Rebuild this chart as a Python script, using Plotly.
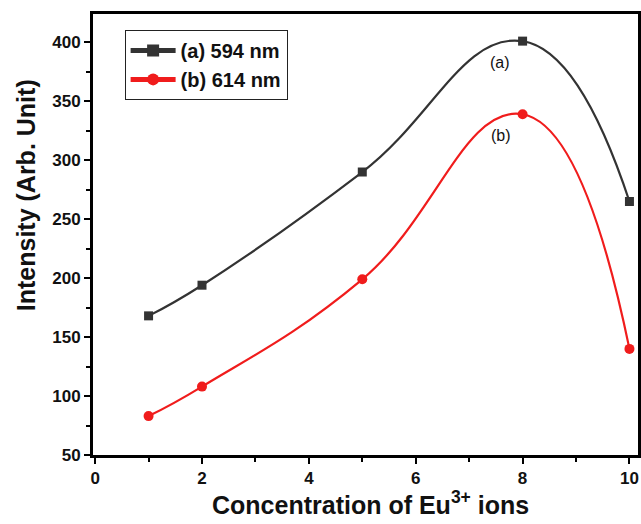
import plotly.graph_objects as go

# Eu3+ concentration (mol %) and emission intensities
concentration = [1, 2, 5, 8, 10]
intensity_594 = [168, 194, 290, 401, 265]
intensity_614 = [83, 108, 199, 339, 140]

series_names = ["(a) 594 nm", "(b) 614 nm"]
curve_labels = ["(a)", "(b)"]
label_pos_x = [7.57, 7.6]
label_pos_y = [383, 321]

x_ticks = [0, 2, 4, 6, 8, 10]
y_ticks = [50, 100, 150, 200, 250, 300, 350, 400]

x_title = "Concentration of Eu<sup>3+</sup> ions"
y_title = "Intensity (Arb. Unit)"

FONT = "Liberation Sans, Arial, sans-serif"

fig = go.Figure()
fig.add_trace(go.Scatter(
    x=concentration, y=intensity_594, name=series_names[0],
    mode="lines+markers",
    line=dict(color="#333333", width=2.2, shape="spline", smoothing=1.3),
    marker=dict(symbol="square", size=9, color="#333333"),
))
fig.add_trace(go.Scatter(
    x=concentration, y=intensity_614, name=series_names[1],
    mode="lines+markers",
    line=dict(color="#f01c1c", width=2.2, shape="spline", smoothing=1.3),
    marker=dict(symbol="circle", size=10, color="#f01c1c"),
))

for txt, lx, ly in zip(curve_labels, label_pos_x, label_pos_y):
    fig.add_annotation(x=lx, y=ly, text=txt, showarrow=False,
                       font=dict(family=FONT, size=16, color="#111111"))

# axis titles placed as paper-anchored annotations
title_font = dict(family=FONT, size=25, color="#111111", weight="bold")
fig.add_annotation(xref="paper", yref="paper", x=0.509, y=-0.109,
                   xanchor="center", yanchor="middle", text=x_title,
                   showarrow=False, font=title_font)
fig.add_annotation(xref="paper", yref="paper", x=-0.124, y=0.59,
                   xanchor="center", yanchor="middle", text=y_title,
                   textangle=-90, showarrow=False, font=title_font)

axis_common = dict(
    showline=True, linecolor="black", linewidth=3, mirror=True,
    ticks="outside", ticklen=6, tickwidth=2, tickcolor="black",
    showgrid=False, zeroline=False,
    tickfont=dict(family=FONT, size=17, color="#111111", weight="bold"),
)

fig.update_xaxes(
    range=[-0.04, 10.16], tickvals=x_ticks,
    minor=dict(ticks="outside", ticklen=4, tickwidth=2, tickcolor="black", dtick=1, tick0=0),
    **axis_common,
)
fig.update_yaxes(
    range=[50, 424], tickvals=y_ticks,
    minor=dict(ticks="outside", ticklen=4, tickwidth=2, tickcolor="black", dtick=25, tick0=50),
    **axis_common,
)

fig.update_layout(
    width=641, height=524,
    margin=dict(l=93, r=0, t=14, b=69),
    paper_bgcolor="white", plot_bgcolor="white",
    showlegend=True,
    legend=dict(
        x=0.058, y=0.964, xanchor="left", yanchor="top",
        bordercolor="#222222", borderwidth=1, bgcolor="white",
        font=dict(family=FONT, size=20, color="#111111", weight="bold"),
        tracegroupgap=0, itemsizing="constant", itemwidth=45,
    ),
)

fig.write_html("out.html")
